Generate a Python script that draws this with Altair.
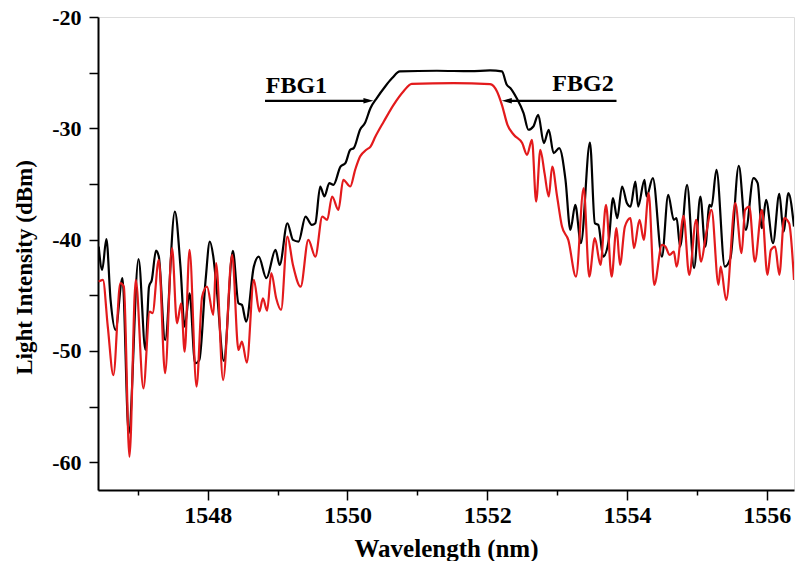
import altair as alt
import pandas as pd

# FBG1 (black) spectrum
black_wl = [1546.44, 1546.49, 1546.55, 1546.61, 1546.68, 1546.78, 1546.87, 1547.01, 1547.11, 1547.16,
            1547.20, 1547.26, 1547.30, 1547.39, 1547.53, 1547.61, 1547.67, 1547.74, 1547.82, 1547.88,
            1547.97, 1548.03, 1548.08, 1548.13, 1548.23, 1548.36, 1548.44, 1548.49, 1548.55, 1548.66,
            1548.73, 1548.84, 1548.97, 1549.03, 1549.14, 1549.22, 1549.30, 1549.40, 1549.49, 1549.54,
            1549.61, 1549.67, 1549.74, 1549.80, 1549.90, 1549.97, 1550.04, 1550.09, 1550.18, 1550.25,
            1550.33, 1550.42, 1550.54, 1550.64, 1550.75, 1551.28, 1551.76, 1552.04, 1552.21, 1552.28,
            1552.33, 1552.42, 1552.52, 1552.59, 1552.66, 1552.73, 1552.81, 1552.88, 1552.95, 1553.03,
            1553.12, 1553.19, 1553.26, 1553.34, 1553.47, 1553.54, 1553.59, 1553.66, 1553.74, 1553.80,
            1553.86, 1553.93, 1554.00, 1554.05, 1554.12, 1554.16, 1554.25, 1554.28, 1554.37, 1554.50,
            1554.59, 1554.67, 1554.71, 1554.76, 1554.86, 1554.96, 1555.05, 1555.12, 1555.18, 1555.21,
            1555.28, 1555.40, 1555.48, 1555.60, 1555.70, 1555.81, 1555.87, 1555.93, 1555.99, 1556.09,
            1556.18, 1556.24, 1556.31, 1556.39]
black_db = [-40.63, -42.72, -39.96, -45.42, -48.12, -43.47, -57.41, -41.76, -49.92, -44.23,
            -43.62, -40.99, -41.53, -49.02, -37.48, -42.43, -47.82, -44.82, -51.12, -50.82,
            -43.62, -40.18, -41.53, -44.52, -50.90, -41.02, -45.72, -45.87, -47.37, -42.43,
            -41.53, -43.47, -40.93, -42.28, -38.53, -40.03, -40.18, -37.93, -38.68, -38.53,
            -35.23, -36.13, -34.93, -35.08, -33.44, -33.13, -31.93, -31.78, -30.13, -29.53,
            -28.18, -27.28, -26.24, -25.49, -24.89, -24.83, -24.87, -24.80, -24.89, -26.09,
            -26.38, -27.28, -28.63, -30.13, -29.84, -28.79, -31.33, -30.13, -32.23, -31.78,
            -34.63, -39.13, -36.88, -40.32, -31.28, -38.53, -38.68, -41.53, -40.03, -36.28,
            -38.08, -35.23, -36.73, -37.03, -34.78, -37.03, -34.63, -36.13, -34.48, -41.53,
            -35.98, -38.23, -38.08, -40.63, -35.08, -42.57, -36.13, -40.63, -36.88, -37.03,
            -33.73, -42.43, -41.67, -33.37, -39.13, -34.48, -34.93, -38.97, -36.43, -40.32,
            -35.89, -39.28, -35.83, -38.83]

# FBG2 (red) spectrum
red_wl = [1546.44, 1546.50, 1546.57, 1546.65, 1546.75, 1546.80, 1546.88, 1546.97, 1547.08, 1547.17,
          1547.21, 1547.30, 1547.39, 1547.49, 1547.56, 1547.62, 1547.67, 1547.74, 1547.84, 1547.92,
          1547.99, 1548.08, 1548.12, 1548.22, 1548.35, 1548.44, 1548.49, 1548.56, 1548.66, 1548.74,
          1548.79, 1548.85, 1548.91, 1548.98, 1549.05, 1549.14, 1549.22, 1549.33, 1549.44, 1549.54,
          1549.64, 1549.71, 1549.78, 1549.87, 1549.94, 1550.04, 1550.11, 1550.18, 1550.27, 1550.33,
          1550.40, 1550.52, 1550.66, 1550.80, 1550.92, 1551.52, 1552.04, 1552.14, 1552.21, 1552.29,
          1552.38, 1552.50, 1552.57, 1552.64, 1552.70, 1552.76, 1552.82, 1552.88, 1552.93, 1553.00,
          1553.07, 1553.16, 1553.27, 1553.38, 1553.46, 1553.54, 1553.62, 1553.70, 1553.78, 1553.85,
          1553.90, 1553.97, 1554.05, 1554.10, 1554.18, 1554.24, 1554.31, 1554.39, 1554.50, 1554.55,
          1554.61, 1554.67, 1554.71, 1554.81, 1554.89, 1554.99, 1555.06, 1555.13, 1555.21, 1555.31,
          1555.34, 1555.42, 1555.55, 1555.64, 1555.69, 1555.75, 1555.83, 1555.93, 1556.01, 1556.06,
          1556.12, 1556.18, 1556.25, 1556.32, 1556.39]
red_db = [-43.78, -43.62, -47.82, -52.17, -43.92, -44.23, -59.51, -43.62, -53.36, -46.47,
          -46.62, -41.83, -52.01, -40.77, -47.52, -45.72, -50.07, -40.93, -53.21, -45.13,
          -44.23, -46.77, -42.12, -52.62, -41.38, -49.92, -49.17, -51.06, -43.62, -46.47,
          -45.27, -46.38, -43.02, -45.27, -46.32, -39.73, -42.28, -44.23, -40.03, -41.53,
          -37.93, -38.23, -36.13, -37.33, -34.63, -35.23, -33.73, -32.54, -31.93, -31.64,
          -30.74, -29.39, -27.89, -26.69, -26.00, -25.94, -26.03, -26.69, -27.89, -29.69,
          -30.58, -31.33, -32.38, -31.03, -36.58, -31.93, -34.03, -36.13, -33.44, -36.13,
          -38.83, -40.03, -43.33, -35.38, -43.33, -39.87, -42.28, -36.88, -43.33, -38.97,
          -42.28, -38.83, -38.08, -40.77, -38.23, -40.03, -35.83, -44.07, -40.48, -40.63,
          -41.38, -41.08, -42.43, -37.87, -43.17, -38.23, -41.98, -39.58, -37.33, -44.07,
          -42.43, -45.42, -36.73, -41.22, -37.33, -37.03, -41.98, -37.33, -43.17, -40.93,
          -40.63, -43.17, -38.08, -38.53, -43.62]

# annotations
ann_labels = ["FBG1", "FBG2"]
ann_text_wl = [1549.27, 1553.37]
ann_text_db = [-26.2, -26.0]
arrow_start_wl = [1548.82, 1553.85]
arrow_end_wl = [1550.30, 1552.28]
arrow_db = [-27.53, -27.53]
arrow_shape = ["M-1,-0.55L1,0L-1,0.55Z", "M1,-0.55L-1,0L1,0.55Z"]

X_DOMAIN = [1546.43, 1556.39]
Y_DOMAIN = [-62.5, -20]
FONT = "Liberation Serif"

df_b = pd.DataFrame({"wl": black_wl, "db": black_db})
df_r = pd.DataFrame({"wl": red_wl, "db": red_db})
df_ann = pd.DataFrame({"label": ann_labels, "wl": ann_text_wl, "db": ann_text_db})
df_arr = pd.DataFrame({"x1": arrow_start_wl, "x2": arrow_end_wl, "db": arrow_db, "shape": arrow_shape})

x_enc = alt.X("wl:Q", scale=alt.Scale(domain=X_DOMAIN, nice=False, zero=False),
              axis=alt.Axis(
                  title="Wavelength (nm)",
                  values=list(range(1547, 1557)),
                  labelExpr="datum.value % 2 == 0 ? datum.label : ''",
                  tickSize={"condition": {"test": "datum.value % 2 == 0", "value": 10}, "value": 5},
                  format="d", grid=False,
                  labelFont=FONT, labelFontSize=24, labelFontWeight="bold", labelColor="black",
                  labelPadding=3,
                  titleFont=FONT, titleFontSize=25, titleFontWeight="bold", titleColor="black",
                  titleBaseline="middle", titleY=58,
                  domainColor="black", domainWidth=2, tickColor="black", tickWidth=1.5))
y_enc = alt.Y("db:Q", scale=alt.Scale(domain=Y_DOMAIN, nice=False, zero=False),
              axis=alt.Axis(
                  title="Light Intensity (dBm)",
                  values=[-60, -55, -50, -45, -40, -35, -30, -25, -20],
                  labelExpr="datum.value % 10 == 0 ? ('' + datum.value) : ''",
                  tickSize=9, grid=False,
                  labelFont=FONT, labelFontSize=22, labelFontWeight="bold", labelColor="black",
                  labelPadding=8,
                  titleFont=FONT, titleFontSize=23, titleFontWeight="bold", titleColor="black",
                  titleBaseline="middle", titleX=-74, titleY=250,
                  domainColor="black", domainWidth=2, tickColor="black", tickWidth=1.5))

black_line = alt.Chart(df_b).mark_line(color="black", strokeWidth=2.2, interpolate="monotone", clip=True).encode(
    x=x_enc, y=y_enc)
red_line = alt.Chart(df_r).mark_line(color="#e31a1c", strokeWidth=2.2, interpolate="monotone", clip=True).encode(
    x="wl:Q", y="db:Q")

text = alt.Chart(df_ann).mark_text(font=FONT, fontSize=24, fontWeight="bold", color="black",
                                   baseline="middle", align="center").encode(
    x="wl:Q", y="db:Q", text="label:N")

arrow_line = alt.Chart(df_arr).mark_rule(color="black", strokeWidth=2.2).encode(
    x="x1:Q", x2="x2:Q", y="db:Q")
arrow_head = alt.Chart(df_arr).mark_point(filled=True, color="black", opacity=1, size=100, strokeWidth=0).encode(
    x="x2:Q", y="db:Q", shape=alt.Shape("shape:N", scale=None, legend=None))

chart = alt.layer(black_line, red_line, arrow_line, arrow_head, text).properties(
    width=696, height=473,
    padding={"left": 98, "top": 17, "right": 2, "bottom": 71},
    autosize=alt.AutoSizeParams(type="none"),
).configure_view(stroke="#444", strokeWidth=1.5).configure(background="white")

chart.save("out.html", embed_options={"renderer": "svg", "actions": False})
